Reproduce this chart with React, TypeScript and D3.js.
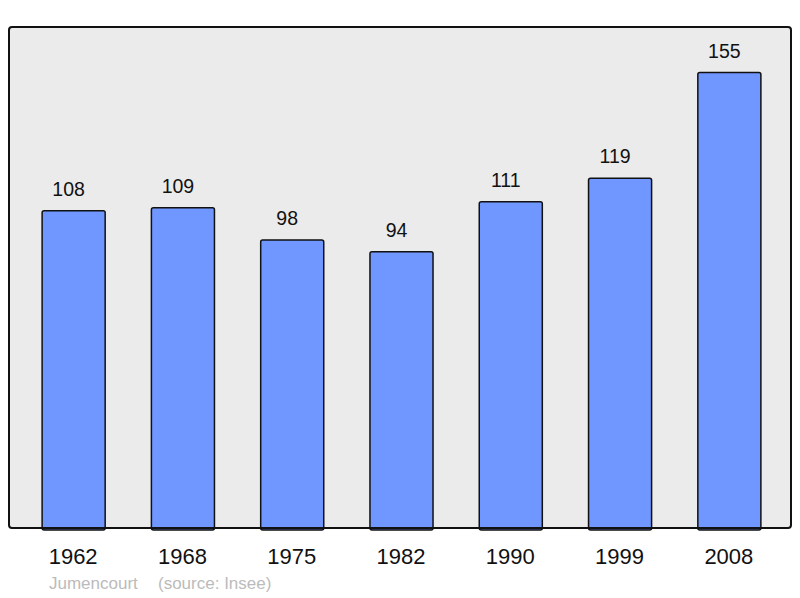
import { useEffect, useRef } from "react";
import * as d3 from "d3";

const years = ["1962", "1968", "1975", "1982", "1990", "1999", "2008"];
const population = [108, 109, 98, 94, 111, 119, 155];
const townName = "Jumencourt";
const sourceNote = "(source: Insee)";

const width = 800;
const height = 598;

const App: React.FC = () => {
  const chartRef = useRef<SVGSVGElement>(null);

  useEffect(() => {
    if (!chartRef.current) return;
    const svg = d3.select(chartRef.current);
    svg.selectAll("*").remove();

    const frame = { left: 9, top: 27, right: 791, bottom: 528 };
    const font = "'Liberation Sans', Arial, sans-serif";

    const x = d3
      .scaleBand<string>()
      .domain(years)
      .range([19, 784])
      .paddingInner(0.423)
      .paddingOuter(0.2115);

    const y = d3
      .scaleLinear()
      .domain([0, d3.max(population)! * 1.1])
      .range([frame.bottom, frame.top]);

    // plot background
    svg
      .append("rect")
      .attr("x", frame.left)
      .attr("y", frame.top)
      .attr("width", frame.right - frame.left)
      .attr("height", frame.bottom - frame.top)
      .attr("rx", 3)
      .attr("fill", "#ebebeb")
      .attr("stroke", "none");

    const bars = svg
      .selectAll("g.bar")
      .data(years)
      .enter()
      .append("g")
      .attr("class", "bar");

    bars
      .append("rect")
      .attr("x", (d) => x(d)!)
      .attr("y", (_, i) => y(population[i]))
      .attr("width", x.bandwidth())
      .attr("height", (_, i) => frame.bottom - y(population[i]) + 2)
      .attr("rx", 2)
      .attr("fill", "#7096ff")
      .attr("stroke", "#111")
      .attr("stroke-width", 1.5);

    // value labels sit a little left of the bar centre
    bars
      .append("text")
      .attr("x", (d) => x(d)! + x.bandwidth() / 2 - 5)
      .attr("y", (_, i) => y(population[i]) - 15)
      .attr("text-anchor", "middle")
      .attr("font-family", font)
      .attr("font-size", "19.5px")
      .attr("fill", "#111")
      .text((_, i) => population[i]);

    bars
      .append("text")
      .attr("x", (d) => x(d)! + x.bandwidth() / 2 - 0.5)
      .attr("y", 564)
      .attr("text-anchor", "middle")
      .attr("font-family", font)
      .attr("font-size", "22px")
      .attr("fill", "#111")
      .text((d) => d);

    // frame border on top of bars
    svg
      .append("rect")
      .attr("x", frame.left)
      .attr("y", frame.top)
      .attr("width", frame.right - frame.left)
      .attr("height", frame.bottom - frame.top)
      .attr("rx", 3)
      .attr("fill", "none")
      .attr("stroke", "#111")
      .attr("stroke-width", 2);

    svg
      .append("text")
      .attr("x", 49)
      .attr("y", 589)
      .attr("font-family", font)
      .attr("font-size", "17px")
      .attr("fill", "#bbbbbb")
      .text(townName);

    svg
      .append("text")
      .attr("x", 158)
      .attr("y", 589)
      .attr("font-family", font)
      .attr("font-size", "17px")
      .attr("fill", "#bbbbbb")
      .text(sourceNote);

    return () => {
      svg.selectAll("*").remove();
    };
  }, []);

  return (
    <svg
      ref={chartRef}
      width={width}
      height={height}
      style={{ position: "absolute", left: 0, top: 0, background: "#fff" }}
    />
  );
};

export default App;
